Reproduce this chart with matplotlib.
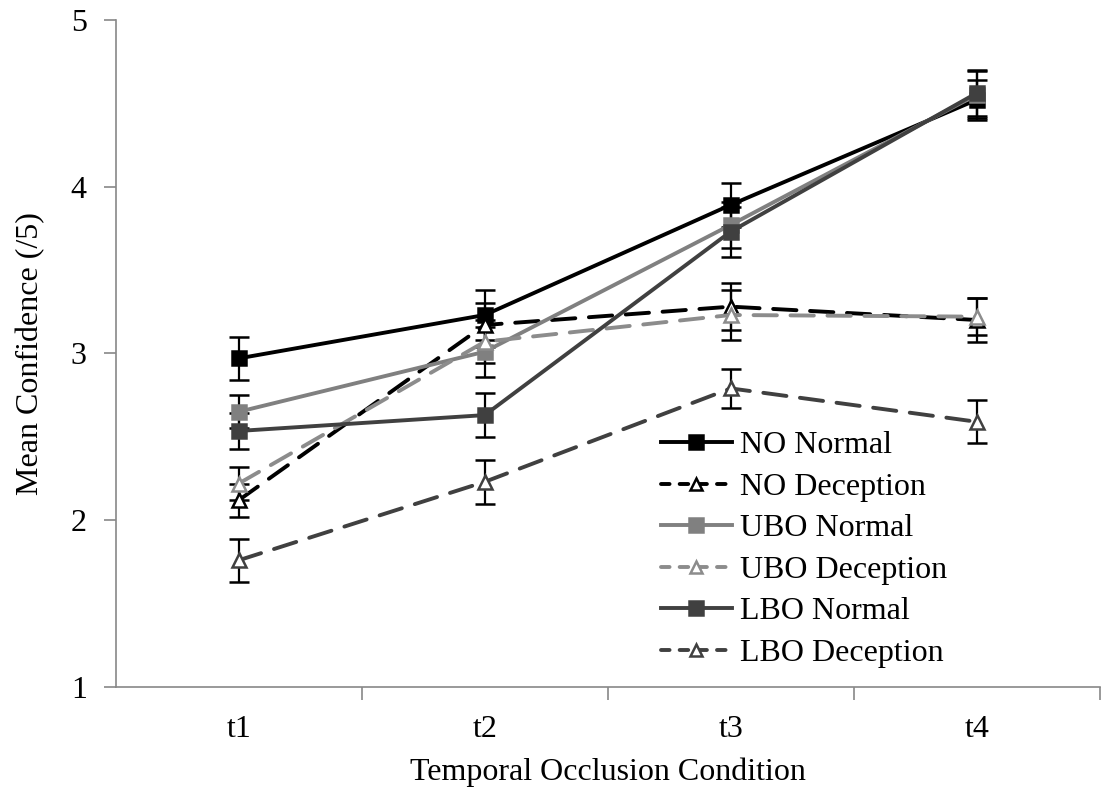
import matplotlib
matplotlib.use("Agg")
import matplotlib.pyplot as plt
from matplotlib.lines import Line2D

# values
conditions = ["t1", "t2", "t3", "t4"]

no_normal = [2.97, 3.23, 3.89, 4.52]
no_normal_err = [0.13, 0.15, 0.13, 0.12]
no_decep = [2.12, 3.17, 3.28, 3.20]
no_decep_err = [0.10, 0.13, 0.14, 0.13]
ubo_normal = [2.65, 3.01, 3.77, 4.55]
ubo_normal_err = [0.10, 0.15, 0.14, 0.14]
ubo_decep = [2.22, 3.07, 3.23, 3.22]
ubo_decep_err = [0.10, 0.13, 0.15, 0.11]
lbo_normal = [2.535, 2.63, 3.73, 4.56]
lbo_normal_err = [0.11, 0.13, 0.15, 0.14]
lbo_decep = [1.76, 2.23, 2.79, 2.59]
lbo_decep_err = [0.13, 0.13, 0.115, 0.13]

plt.rcParams['font.family'] = ['Liberation Serif', 'DejaVu Serif']
FS = 23

fig = plt.figure(figsize=(11.03, 7.87), dpi=100)
ax = fig.add_axes([0.105, 0.127, 0.892, 0.848])

x = list(range(len(conditions)))

series = [
    ("NO Normal", no_normal, no_normal_err, "#000000", "-", "s"),
    ("NO Deception", no_decep, no_decep_err, "#000000", "--", "^"),
    ("UBO Normal", ubo_normal, ubo_normal_err, "#808080", "-", "s"),
    ("UBO Deception", ubo_decep, ubo_decep_err, "#8c8c8c", "--", "^"),
    ("LBO Normal", lbo_normal, lbo_normal_err, "#404040", "-", "s"),
    ("LBO Deception", lbo_decep, lbo_decep_err, "#404040", "--", "^"),
]

handles = []
for label, vals, err, col, ls, mk in series:
    face = col if mk == "s" else "white"
    out = ax.errorbar(x, vals, yerr=err, color=col, ls=ls, lw=2.8, marker=mk,
                      ms=10, mfc=face, mec=col, mew=1.8, ecolor="black",
                      elinewidth=1.6, capsize=7, capthick=1.6, zorder=3)
    h = Line2D([], [], color=col, ls=ls, lw=2.8, marker=mk, ms=10 if mk == "s" else 9,
               mfc=face, mec=col, mew=1.8)
    if ls == "--":
        out[0].set_dashes([6, 3.5])
        out[0].set_dash_capstyle("round")
        h.set_dashes([2.2, 2.6])
        h.set_dash_capstyle("round")
    handles.append((h, label))

ax.set_xlim(-0.5, 3.5)
ax.set_ylim(1, 5)
ax.set_yticks([1, 2, 3, 4, 5])
ax.set_xticks(x)
ax.set_xticklabels(conditions)
ax.set_xticks([0.5, 1.5, 2.5, 3.5], minor=True)

for side in ["top", "right"]:
    ax.spines[side].set_visible(False)
for side in ["left", "bottom"]:
    ax.spines[side].set_color("#888888")
    ax.spines[side].set_linewidth(1.2)

ax.tick_params(axis="x", which="major", length=0, labelsize=FS, pad=20)
ax.tick_params(axis="x", which="minor", length=9, color="#888888", width=1.2)
ax.tick_params(axis="y", length=9, color="#888888", width=1.2, labelsize=FS, pad=12)

ax.set_xlabel("Temporal Occlusion Condition", fontsize=FS, labelpad=10)
ax.set_ylabel("Mean Confidence (/5)", fontsize=FS, labelpad=18)

ax.legend([h for h, _ in handles], [l for _, l in handles],
          loc="lower left", bbox_to_anchor=(0.535, 0.0), frameon=False,
          fontsize=FS, handlelength=2.2, handletextpad=0.25, labelspacing=0.38,
          borderaxespad=0.2)

fig.savefig("out.png", dpi=100)
